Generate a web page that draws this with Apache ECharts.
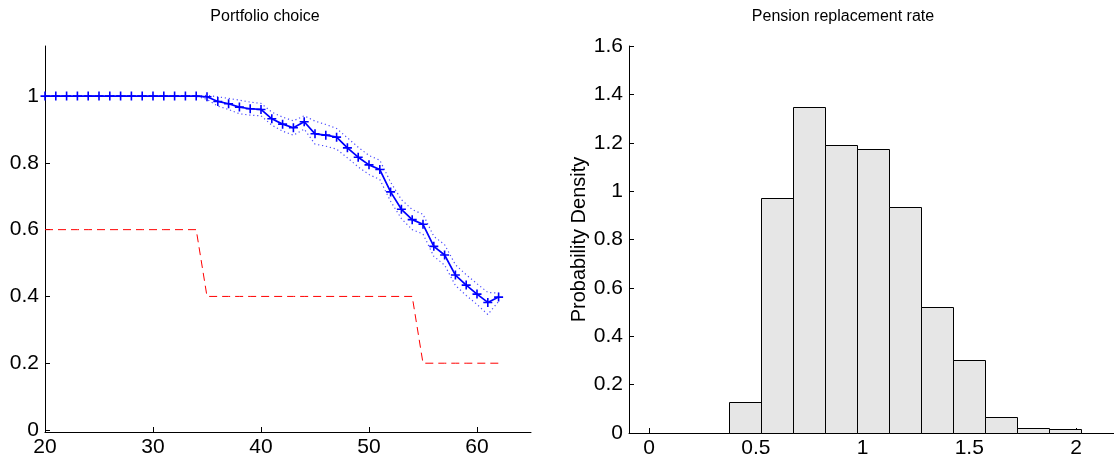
<!DOCTYPE html>
<html><head><meta charset="utf-8">
<script src="https://cdn.jsdelivr.net/npm/echarts@6/dist/echarts.min.js"></script>
<style>html,body{margin:0;padding:0;background:#fff}#c{width:1114px;height:461px}</style>
</head><body><div id="c"></div>
<script>
// ---- Left panel: portfolio choice by age ----
const ages = [20,21,22,23,24,25,26,27,28,29,30,31,32,33,34,35,36,37,38,39,40,41,42,43,44,45,46,47,48,49,50,51,52,53,54,55,56,57,58,59,60,61,62];
const choiceMean = [1,1,1,1,1,1,1,1,1,1,1,1,1,1,1,
  0.998,0.984,0.977,0.967,0.962,0.960,0.932,0.916,0.905,0.923,0.887,0.883,0.877,0.845,0.817,0.794,0.780,0.713,0.661,0.630,0.616,0.550,0.524,0.464,0.434,0.407,0.382,0.398];
const choiceUpper = [1,1,1,1,1,1,1,1,1,1,1,1,1,1,1,
  1.002,0.998,0.993,0.988,0.982,0.978,0.952,0.937,0.926,0.941,0.925,0.915,0.903,0.875,0.847,0.822,0.808,0.742,0.690,0.660,0.646,0.580,0.555,0.495,0.465,0.438,0.412,0.410];
const choiceLower = [1,1,1,1,1,1,1,1,1,1,1,1,1,1,1,
  0.990,0.970,0.960,0.947,0.943,0.941,0.913,0.895,0.883,0.901,0.856,0.850,0.841,0.815,0.788,0.765,0.750,0.685,0.633,0.600,0.587,0.520,0.494,0.433,0.403,0.376,0.346,0.385];
const benchmark = [0.6,0.6,0.6,0.6,0.6,0.6,0.6,0.6,0.6,0.6,0.6,0.6,0.6,0.6,0.6,
  0.4,0.4,0.4,0.4,0.4,0.4,0.4,0.4,0.4,0.4,0.4,0.4,0.4,0.4,0.4,0.4,0.4,0.4,0.4,0.4,
  0.2,0.2,0.2,0.2,0.2,0.2,0.2,0.2];
const leftXTicks = [20,30,40,50,60];
const leftYTicks = [0,0.2,0.4,0.6,0.8,1];

// ---- Right panel: histogram of pension replacement rate ----
const binEdges = [0,0.223,0.373,0.523,0.672,0.823,0.973,1.124,1.273,1.422,1.573,1.723,1.874,2.023];
const density  = [0,0,0.128,0.973,1.347,1.192,1.175,0.934,0.520,0.300,0.067,0.021,0.015];
const rightXTicks = [0,0.5,1,1.5,2];
const rightYTicks = [0,0.2,0.4,0.6,0.8,1,1.2,1.4,1.6];

const FONT = '"Liberation Sans", Arial, Helvetica, sans-serif';
function pairs(x, y) { return x.map((v, i) => [v, y[i]]); }
const histData = density.map((d, i) => [binEdges[i], binEdges[i + 1], d]);

function axis(extra, ticks, isX) {
  return Object.assign({
    type: 'value',
    axisLine: { show: true, onZero: false, lineStyle: { color: '#000', width: 1 } },
    axisTick: { show: true, inside: true, length: 5, customValues: ticks, lineStyle: { color: '#000', width: 1 } },
    axisLabel: { customValues: ticks, color: '#000', fontSize: 21, fontFamily: FONT, margin: isX ? 5 : 6 },
    splitLine: { show: false }
  }, extra);
}

const chart = echarts.init(document.getElementById('c'), null, { renderer: 'canvas' });
chart.setOption({
  animation: false,
  backgroundColor: '#fff',
  title: [
    { text: 'Portfolio choice', left: 265, top: 9, textAlign: 'center', padding: 0,
      textStyle: { fontFamily: FONT, fontSize: 16, fontWeight: 'normal', color: '#000' } },
    { text: 'Pension replacement rate', left: 843, top: 9, textAlign: 'center', padding: 0,
      textStyle: { fontFamily: FONT, fontSize: 16, fontWeight: 'normal', color: '#000' } }
  ],
  grid: [
    { left: 45, top: 46, width: 486, height: 386 },
    { left: 629, top: 46, width: 485, height: 387 }
  ],
  xAxis: [
    axis({ gridIndex: 0, min: 20, max: 65 }, leftXTicks, true),
    axis({ gridIndex: 1, min: -0.094, max: 2.178 }, rightXTicks, true)
  ],
  yAxis: [
    axis({ gridIndex: 0, min: -0.006, max: 1.15 }, leftYTicks, false),
    axis({ gridIndex: 1, min: 0, max: 1.6, name: 'Probability Density', nameLocation: 'middle', nameGap: 40,
      nameTextStyle: { fontFamily: FONT, fontSize: 20, color: '#000' } }, rightYTicks, false)
  ],
  series: [
    { type: 'line', xAxisIndex: 0, yAxisIndex: 0, data: pairs(ages, choiceUpper), symbol: 'none',
      lineStyle: { color: '#4a4aff', width: 1.2, type: [1.2, 2.8] }, z: 2 },
    { type: 'line', xAxisIndex: 0, yAxisIndex: 0, data: pairs(ages, choiceLower), symbol: 'none',
      lineStyle: { color: '#4a4aff', width: 1.2, type: [1.2, 2.8] }, z: 2 },
    { type: 'line', xAxisIndex: 0, yAxisIndex: 0, data: pairs(ages, benchmark), symbol: 'none',
      lineStyle: { color: '#ff0000', width: 1, type: [8, 5] }, z: 2 },
    { type: 'line', xAxisIndex: 0, yAxisIndex: 0, data: pairs(ages, choiceMean),
      symbol: 'path://M5,0L5,10M0,5L10,5', symbolSize: 9, showSymbol: true,
      itemStyle: { color: '#0000ff', borderColor: '#0000ff', borderWidth: 1.6 },
      lineStyle: { color: '#0000ff', width: 1.7 }, z: 3 },
    { type: 'custom', xAxisIndex: 1, yAxisIndex: 1, data: histData,
      encode: { x: [0, 1], y: 2 },
      renderItem: function (params, api) {
        const p0 = api.coord([api.value(0), 0]);
        const p1 = api.coord([api.value(1), api.value(2)]);
        return {
          type: 'rect',
          shape: { x: Math.round(p0[0]) + 0.5, y: Math.round(p1[1]) + 0.5,
                   width: Math.round(p1[0]) - Math.round(p0[0]), height: Math.round(p0[1]) - Math.round(p1[1]) },
          style: { fill: '#e6e6e6', stroke: '#000', lineWidth: 1 }
        };
      }, z: 2 }
  ]
});
</script>
</body></html>
